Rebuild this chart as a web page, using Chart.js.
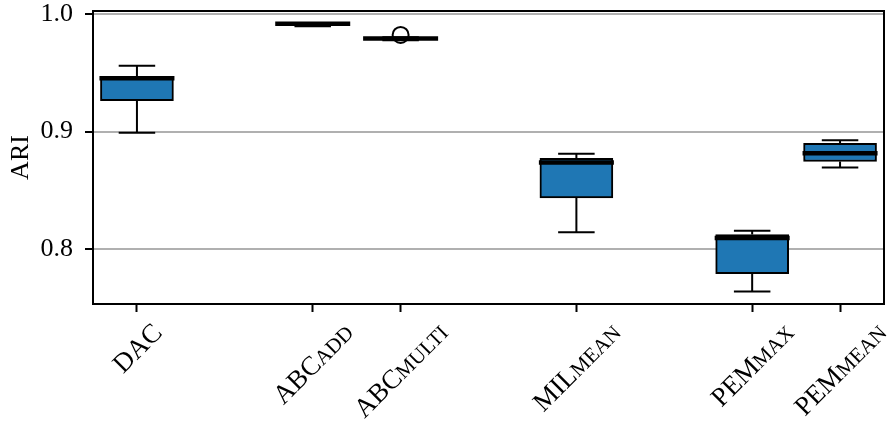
<!DOCTYPE html>
<html>
<head>
<meta charset="utf-8">
<script src="https://cdn.jsdelivr.net/npm/chart.js@4.4.1/dist/chart.umd.min.js"></script>
<style>
  html, body { margin: 0; padding: 0; background: #fff; }
  #wrap { width: 894px; height: 430px; }
</style>
</head>
<body>
<div id="wrap"><canvas id="boxChart"></canvas></div>
<script>
// methods and where they sit on the x axis
const positions = [0, 2, 3, 5, 7, 8];
const names = ["DAC", "ABC", "ABC", "MIL", "PEM", "PEM"];
const subs = ["", "ADD", "MULTI", "MEAN", "MAX", "MEAN"];

// box statistics (ARI)
const lows = [0.899, 0.9893, 0.9775, 0.8145, 0.7642, 0.8695];
const q1s = [0.9263, 0.9905, 0.978, 0.8436, 0.7794, 0.8746];
const medians = [0.9453, 0.9915, 0.979, 0.8737, 0.8097, 0.8817];
const q3s = [0.9468, 0.9918, 0.9795, 0.8772, 0.8127, 0.89];
const highs = [0.9559, 0.992, 0.98, 0.8811, 0.8158, 0.8927];
const outliers = [{ x: 3, y: 0.982 }];

const yTicks = [0.8, 0.9, 1.0];

const SERIF = "'Liberation Serif', 'DejaVu Serif', serif";
const BOX_W = 73;

const boxParts = {
  id: "boxParts",
  afterDatasetsDraw(chart) {
    const ctx = chart.ctx;
    const xs = chart.scales.x;
    const ys = chart.scales.y;
    ctx.save();
    ctx.strokeStyle = "#000";
    ctx.lineCap = "butt";
    positions.forEach((p, i) => {
      const cx = xs.getPixelForValue(p);
      // whiskers
      ctx.lineWidth = 2;
      ctx.beginPath();
      ctx.moveTo(cx, ys.getPixelForValue(q1s[i]));
      ctx.lineTo(cx, ys.getPixelForValue(lows[i]));
      ctx.moveTo(cx, ys.getPixelForValue(q3s[i]));
      ctx.lineTo(cx, ys.getPixelForValue(highs[i]));
      ctx.stroke();
      // caps
      ctx.beginPath();
      [lows[i], highs[i]].forEach((v) => {
        const py = ys.getPixelForValue(v);
        ctx.moveTo(cx - BOX_W / 4, py);
        ctx.lineTo(cx + BOX_W / 4, py);
      });
      ctx.stroke();
      // median
      ctx.lineWidth = 4.5;
      ctx.beginPath();
      const my = ys.getPixelForValue(medians[i]);
      ctx.moveTo(cx - BOX_W / 2 - 1, my);
      ctx.lineTo(cx + BOX_W / 2 + 1, my);
      ctx.stroke();
    });
    ctx.restore();
  },
  afterDraw(chart) {
    const ctx = chart.ctx;
    const area = chart.chartArea;
    const xs = chart.scales.x;
    ctx.save();
    // frame
    ctx.strokeStyle = "#000";
    ctx.lineWidth = 2;
    ctx.strokeRect(area.left, area.top, area.right - area.left, area.bottom - area.top);
    // rotated category labels with small-caps suffix
    const mainSize = 27, subSize = 21;
    const c = Math.SQRT1_2;
    const A = 0.89 * mainSize, D = 0.22 * mainSize;
    const top = area.bottom + 13;
    ctx.fillStyle = "#000";
    ctx.textBaseline = "alphabetic";
    ctx.textAlign = "left";
    positions.forEach((p, i) => {
      ctx.font = mainSize + "px " + SERIF;
      const w1 = ctx.measureText(names[i]).width;
      ctx.font = subSize + "px " + SERIF;
      const w2 = ctx.measureText(subs[i]).width;
      const W = w1 + w2;
      const tx = xs.getPixelForValue(p);
      const ox = tx - (c * (W + D - A)) / 2;
      const oy = top + c * (W + A);
      ctx.save();
      ctx.translate(ox, oy);
      ctx.rotate(-Math.PI / 4);
      ctx.font = mainSize + "px " + SERIF;
      ctx.fillText(names[i], 0, 0);
      ctx.font = subSize + "px " + SERIF;
      ctx.fillText(subs[i], w1, 0);
      ctx.restore();
    });
    ctx.restore();
  },
};

new Chart(document.getElementById("boxChart"), {
  data: {
    datasets: [
      {
        type: "bar",
        data: positions.map((p, i) => ({ x: p, y: [q1s[i], q3s[i]] })),
        backgroundColor: "#1f77b4",
        borderColor: "#000",
        borderWidth: 2,
        borderSkipped: false,
        barThickness: BOX_W,
      },
      {
        type: "scatter",
        data: outliers,
        pointRadius: 8,
        pointBorderWidth: 2,
        borderColor: "#000",
        backgroundColor: "rgba(0,0,0,0)",
      },
    ],
  },
  options: {
    responsive: true,
    maintainAspectRatio: false,
    animation: false,
    events: [],
    layout: { padding: { left: 0, right: 5, top: 11, bottom: 0 } },
    plugins: { legend: { display: false }, tooltip: { enabled: false } },
    scales: {
      x: {
        type: "linear",
        min: -0.5,
        max: 8.5,
        offset: false,
        afterBuildTicks: (scale) => {
          scale.ticks = positions.map((v) => ({ value: v }));
        },
        afterFit: (scale) => {
          scale.height = 126;
          scale.paddingLeft = 0;
          scale.paddingRight = 0;
        },
        ticks: { display: false },
        grid: {
          offset: false,
          drawOnChartArea: false,
          drawTicks: true,
          tickLength: 8,
          tickColor: "#000",
          tickWidth: 2,
        },
        border: { display: false },
      },
      y: {
        min: 0.7537,
        max: 1.0023,
        afterBuildTicks: (scale) => {
          scale.ticks = yTicks.map((v) => ({ value: v }));
        },
        afterFit: (scale) => {
          scale.width = 93;
          scale.paddingTop = 0;
          scale.paddingBottom = 0;
        },
        ticks: {
          color: "#000",
          padding: 12,
          font: { family: SERIF, size: 26 },
          callback: (v) => v.toFixed(1),
        },
        grid: {
          color: "#b0b0b0",
          lineWidth: 2,
          drawTicks: true,
          tickLength: 8,
          tickColor: "#000",
          tickWidth: 2,
        },
        border: { display: false },
        title: {
          display: true,
          text: "ARI",
          color: "#000",
          padding: { top: 6, bottom: 0 },
          font: { family: SERIF, size: 26 },
        },
      },
    },
  },
  plugins: [boxParts],
});
</script>
</body>
</html>
